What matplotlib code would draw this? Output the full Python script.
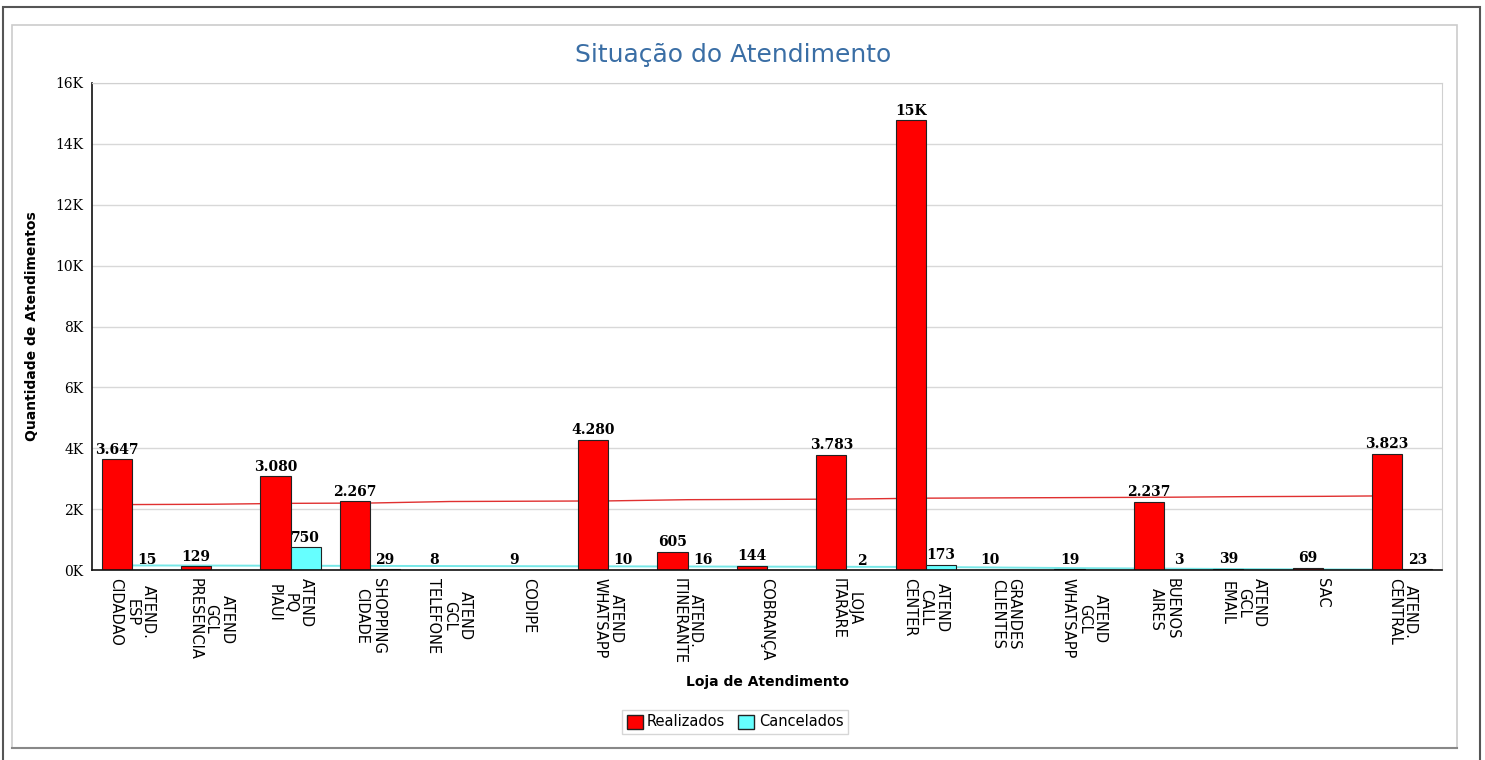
import matplotlib.pyplot as plt
from matplotlib.patches import Rectangle, Patch
from matplotlib.ticker import FuncFormatter
import numpy as np

# data
lojas = ['ATEND.\nESP\nCIDADAO', 'ATEND\nGCL\nPRESENCIA', 'ATEND\nPQ\nPIAUI',
         'SHOPPING\nCIDADE', 'ATEND\nGCL\nTELEFONE', 'CODIPE',
         'ATEND\nWHATSAPP', 'ATEND.\nITINERANTE', 'COBRANÇA',
         'LOJA\nITARARE', 'ATEND\nCALL\nCENTER', 'GRANDES\nCLIENTES',
         'ATEND\nGCL\nWHATSAPP', 'BUENOS\nAIRES', 'ATEND\nGCL\nEMAIL',
         'SAC', 'ATEND.\nCENTRAL']
realizados = [3647, 129, 3080, 2267, 8, 9, 4280, 605, 144, 3783, 14780,
              10, 19, 2237, 39, 69, 3823]
cancelados = [15, 0, 750, 29, 0, 0, 10, 16, 0, 2, 173, 0, 0, 3, 0, 0, 23]
media_real = [2150, 2160, 2190, 2200, 2250, 2260, 2270, 2310, 2320, 2330,
              2360, 2370, 2380, 2390, 2410, 2420, 2440]
media_canc = [150, 145, 140, 135, 130, 125, 120, 115, 110, 105, 100, 80,
              60, 45, 30, 20, 15]
yticks = [0, 2000, 4000, 6000, 8000, 10000, 12000, 14000, 16000]

RED = '#ff0000'
CYAN = '#66ffff'

def fmt_val(v):
    if v >= 10000:
        return '%dK' % round(v / 1000.0)
    return '{:,}'.format(v).replace(',', '.')

fig = plt.figure(figsize=(14.85, 7.6), dpi=100)
fig.patch.set_facecolor('white')

# outer frames
fig.patches.append(Rectangle((3 / 1485, -0.1), (1480 - 3) / 1485, 1 - 7 / 760 + 0.1,
                             transform=fig.transFigure, fill=False,
                             edgecolor='#555555', lw=1.5))
fig.patches.append(Rectangle((12 / 1485, 1 - 748 / 760), (1457 - 12) / 1485, (748 - 25) / 760,
                             transform=fig.transFigure, fill=False,
                             edgecolor='#cccccc', lw=1.2))
fig.add_artist(plt.Line2D([12 / 1485, 1457 / 1485], [1 - 748 / 760] * 2,
                          transform=fig.transFigure, color='#888888', lw=1.5))

ax = fig.add_axes([92 / 1485, 1 - 570 / 760, (1442 - 92) / 1485, (570 - 83) / 760])
x = np.arange(len(lojas))
w = 0.38

ax.plot(x, media_real, color='#e03030', lw=1, zorder=1)
ax.plot(x, media_canc, color='#77e8e8', lw=1.4, zorder=1)
b1 = ax.bar(x - w / 2, realizados, w, color=RED, edgecolor='#222222', lw=0.8, zorder=2)
b2 = ax.bar(x + w / 2, cancelados, w, color=CYAN, edgecolor='#222222', lw=0.8, zorder=2)

for xi, v in zip(x, realizados):
    ax.text(xi - w / 2, v + 80, fmt_val(v), ha='center', va='bottom',
            fontsize=10, fontweight='bold', family='DejaVu Serif', zorder=3)
for xi, v in zip(x, cancelados):
    if v > 0:
        ax.text(xi + w / 2, v + 80, fmt_val(v), ha='center', va='bottom',
                fontsize=10, fontweight='bold', family='DejaVu Serif', zorder=3)

ax.set_xlim(-0.5, len(lojas) - 0.5)
ax.set_ylim(0, 16000)
ax.set_yticks(yticks)
ax.yaxis.set_major_formatter(FuncFormatter(lambda v, p: '%dK' % (v / 1000)))
ax.set_xticks(x)
ax.set_xticklabels(lojas, rotation=-90, fontsize=10.5, linespacing=1.1,
                   va='top', ha='center')
for t in ax.get_yticklabels():
    t.set_family('DejaVu Serif')
    t.set_fontsize(10)
ax.tick_params(axis='both', length=0, pad=6)
ax.grid(axis='y', color='#d8d8d8', lw=1)
ax.set_axisbelow(True)
for s in ['top', 'right']:
    ax.spines[s].set_color('#d0d0d0')
for s in ['left', 'bottom']:
    ax.spines[s].set_color('#111111')
    ax.spines[s].set_linewidth(1.2)

ax.set_ylabel('Quantidade de Atendimentos', fontsize=10, fontweight='bold', labelpad=12)
ax.set_xlabel('Loja de Atendimento', fontsize=10, fontweight='bold', labelpad=8)

fig.text(733 / 1485, 1 - 55 / 760, 'Situação do Atendimento', ha='center', va='center',
         fontsize=18, color='#3a6ea5')

handles = [Patch(facecolor=RED, edgecolor='#222222', label='Realizados'),
           Patch(facecolor=CYAN, edgecolor='#222222', label='Cancelados')]
fig.legend(handles=handles, loc='center', bbox_to_anchor=(735 / 1485, 1 - 722 / 760),
           ncol=2, fontsize=10.5, frameon=True, fancybox=False, edgecolor='#cccccc',
           handlelength=1.1, handleheight=1.1, handletextpad=0.3, columnspacing=0.9,
           borderpad=0.3)

fig.savefig('out.png', dpi=100)
